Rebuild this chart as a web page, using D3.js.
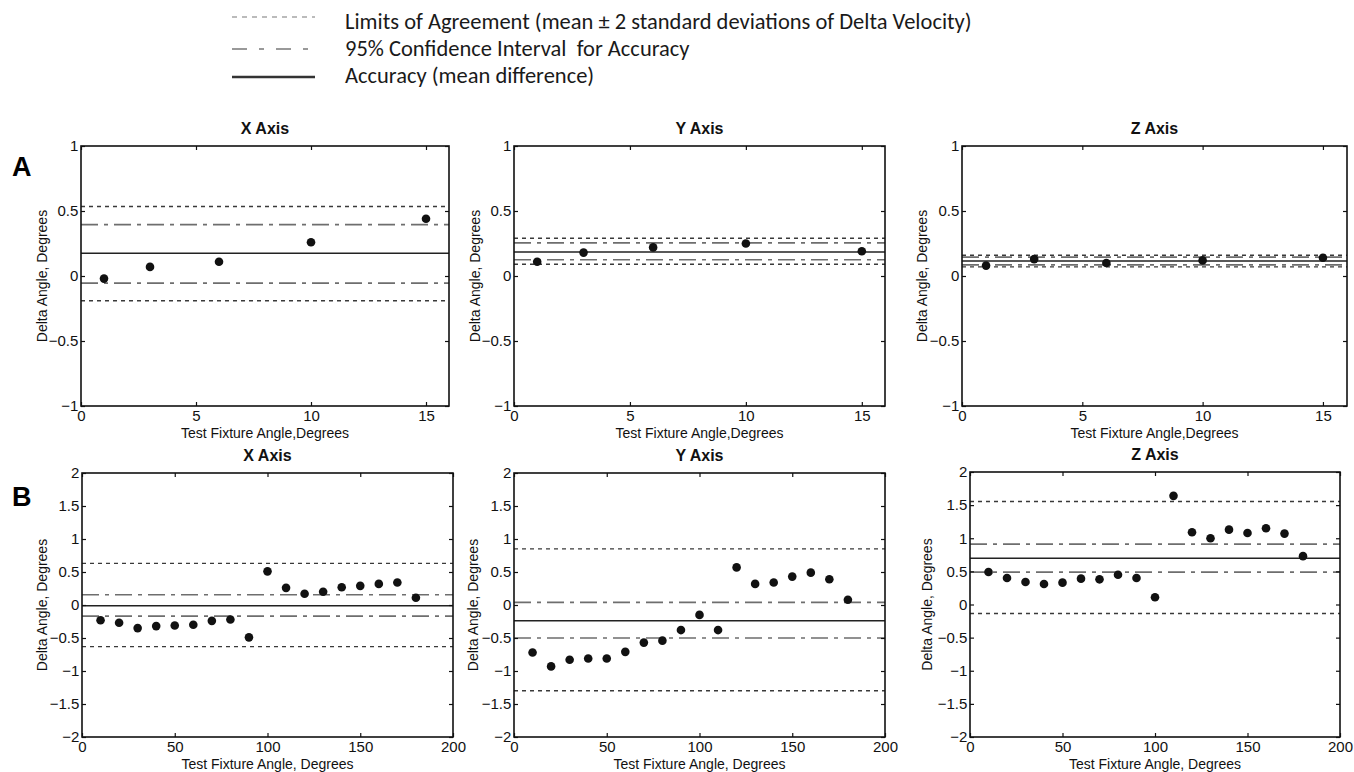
<!DOCTYPE html>
<html><head><meta charset="utf-8">
<script src="https://cdn.jsdelivr.net/npm/d3@7"></script>
<style>
html,body{margin:0;padding:0;background:#fff;}
svg{display:block;}
.leg{white-space:pre;}
</style></head>
<body>
<svg id="chart" width="1354" height="772"></svg>
<script>
// ---------- DATA ----------
const rowLabels = ["A", "B"];
const panelTitles = ["X Axis", "Y Axis", "Z Axis"];
const legendLabels = [
  "Limits of Agreement (mean \u00b1 2 standard deviations of Delta Velocity)",
  "95% Confidence Interval  for Accuracy",
  "Accuracy (mean difference)"
];
const yLabel = "Delta Angle, Degrees";
const xLabelA = "Test Fixture Angle,Degrees";
const xLabelB = "Test Fixture Angle, Degrees";

const xTicksA = [0, 5, 10, 15];
const yTicksA = [-1, -0.5, 0, 0.5, 1];
const xTicksB = [0, 50, 100, 150, 200];
const yTicksB = [-2, -1.5, -1, -0.5, 0, 0.5, 1, 1.5, 2];

const anglesA = [1, 3, 6, 10, 15];
const deltaAX = [-0.02, 0.07, 0.11, 0.26, 0.44];
const deltaAY = [0.11, 0.18, 0.22, 0.25, 0.19];
const deltaAZ = [0.08, 0.13, 0.10, 0.12, 0.14];

const anglesB = [10, 20, 30, 40, 50, 60, 70, 80, 90, 100, 110, 120, 130, 140, 150, 160, 170, 180];
const deltaBX = [-0.23, -0.27, -0.35, -0.32, -0.31, -0.30, -0.24, -0.22, -0.49, 0.51, 0.26, 0.17, 0.20, 0.27, 0.29, 0.32, 0.34, 0.11];
const deltaBY = [-0.72, -0.93, -0.83, -0.81, -0.81, -0.71, -0.57, -0.54, -0.38, -0.15, -0.38, 0.57, 0.32, 0.34, 0.43, 0.49, 0.39, 0.08];
const deltaBZ = [0.49, 0.40, 0.34, 0.31, 0.33, 0.39, 0.38, 0.45, 0.40, 0.11, 1.64, 1.09, 1.00, 1.13, 1.08, 1.15, 1.07, 0.73];

// [LoA lower, CI lower, mean, CI upper, LoA upper]
const statsAX = [-0.19, -0.055, 0.175, 0.395, 0.535];
const statsAY = [0.09, 0.125, 0.185, 0.255, 0.29];
const statsAZ = [0.07, 0.085, 0.115, 0.145, 0.16];
const statsBX = [-0.63, -0.17, -0.01, 0.155, 0.63];
const statsBY = [-1.30, -0.50, -0.24, 0.04, 0.85];
const statsBZ = [-0.135, 0.49, 0.70, 0.91, 1.555];

// ---------- LAYOUT ----------
const boxes = [
  {l: 81,  r: 449,  t: 146, b: 406},
  {l: 514, r: 885,  t: 146, b: 406},
  {l: 962, r: 1347, t: 146, b: 406},
  {l: 82,  r: 453,  t: 473, b: 737},
  {l: 514, r: 885,  t: 473, b: 737},
  {l: 970, r: 1340, t: 472, b: 737}
];
const ylabX = [42, 475, 922, 42, 473, 927];

const panels = [
  {x: anglesA, y: deltaAX, s: statsAX, xd: [0, 16], yd: [-1, 1], xt: xTicksA, yt: yTicksA, title: panelTitles[0], xl: xLabelA},
  {x: anglesA, y: deltaAY, s: statsAY, xd: [0, 16], yd: [-1, 1], xt: xTicksA, yt: yTicksA, title: panelTitles[1], xl: xLabelA},
  {x: anglesA, y: deltaAZ, s: statsAZ, xd: [0, 16], yd: [-1, 1], xt: xTicksA, yt: yTicksA, title: panelTitles[2], xl: xLabelA},
  {x: anglesB, y: deltaBX, s: statsBX, xd: [0, 200], yd: [-2, 2], xt: xTicksB, yt: yTicksB, title: panelTitles[0], xl: xLabelB},
  {x: anglesB, y: deltaBY, s: statsBY, xd: [0, 200], yd: [-2, 2], xt: xTicksB, yt: yTicksB, title: panelTitles[1], xl: xLabelB},
  {x: anglesB, y: deltaBZ, s: statsBZ, xd: [0, 200], yd: [-2, 2], xt: xTicksB, yt: yTicksB, title: panelTitles[2], xl: xLabelB}
];

const svg = d3.select("#chart");
const axisFont = "'Liberation Sans', Arial, sans-serif";
const styles = {
  loa: {stroke: "#3a3a3a", width: 1.4, dash: "4,4"},
  ci:  {stroke: "#6e6e6e", width: 1.7, dash: "17,6,4,6"},
  mean:{stroke: "#222", width: 1.5, dash: null}
};
const lineKinds = ["loa", "ci", "mean", "ci", "loa"];

// ---------- LEGEND ----------
const legendKinds = ["loa", "ci", "mean"];
const legY = [17, 49, 77];
const lg = svg.append("g");
legendKinds.forEach((k, i) => {
  lg.append("line").attr("x1", 232).attr("x2", 315).attr("y1", legY[i]).attr("y2", legY[i])
    .attr("stroke", k === "loa" ? "#bbb" : (k === "ci" ? "#999" : "#333"))
    .attr("stroke-width", k === "mean" ? 2.5 : 2)
    .attr("stroke-dasharray", k === "loa" ? "5,5" : (k === "ci" ? "15,12,5,12" : null));
  lg.append("text").attr("class", "leg").attr("x", 345).attr("y", legY[i] + 6 + (i === 0 ? 6 : (i === 1 ? 1 : 0)))
    .attr("font-family", "Carlito, Lato, 'Open Sans', sans-serif")
    .attr("font-size", 20).attr("fill", "#1a1a1a")
    .text(legendLabels[i]);
});
{
  const t = lg.selectAll("text").nodes()[0];
  const w = t.getComputedTextLength();
  const fs = 20 * 627 / w;
  lg.selectAll("text").attr("font-size", fs);
}

// ---------- ROW LABELS ----------
svg.append("text").attr("x", 12).attr("y", 176).attr("font-family", axisFont)
  .attr("font-weight", "bold").attr("font-size", 27).text(rowLabels[0]);
svg.append("text").attr("x", 12).attr("y", 506).attr("font-family", axisFont)
  .attr("font-weight", "bold").attr("font-size", 27).text(rowLabels[1]);

// ---------- PANELS ----------
panels.forEach((p, i) => {
  const bx = boxes[i];
  const x = d3.scaleLinear().domain(p.xd).range([bx.l, bx.r]);
  const y = d3.scaleLinear().domain(p.yd).range([bx.b, bx.t]);
  const g = svg.append("g");

  p.s.forEach((v, j) => {
    const st = styles[lineKinds[j]];
    g.append("line").attr("x1", bx.l).attr("x2", bx.r).attr("y1", y(v)).attr("y2", y(v))
      .attr("stroke", st.stroke).attr("stroke-width", st.width)
      .attr("stroke-dasharray", st.dash);
  });

  g.selectAll("circle.pt").data(p.x.map((xv, k) => [xv, p.y[k]])).enter()
    .append("circle").attr("class", "pt")
    .attr("cx", d => x(d[0])).attr("cy", d => y(d[1])).attr("r", 4.3)
    .attr("fill", "#111");

  const tl = 4;
  const axB = d3.axisBottom(x).tickValues(p.xt).tickSize(-tl).tickPadding(6).tickFormat(d3.format("d"));
  const axT = d3.axisTop(x).tickValues(p.xt).tickSize(-tl).tickFormat("");
  const axL = d3.axisLeft(y).tickValues(p.yt).tickSize(-tl).tickPadding(5).tickFormat(d => d3.format("")(d));
  const axR = d3.axisRight(y).tickValues(p.yt).tickSize(-tl).tickFormat("");
  const gb = g.append("g").attr("transform", `translate(0,${bx.b})`).call(axB);
  const gt = g.append("g").attr("transform", `translate(0,${bx.t})`).call(axT);
  const gl = g.append("g").attr("transform", `translate(${bx.l},0)`).call(axL);
  const gr = g.append("g").attr("transform", `translate(${bx.r},0)`).call(axR);
  [gb, gt, gl, gr].forEach(a => {
    a.select(".domain").remove();
    a.selectAll(".tick line").attr("stroke", "#111").attr("stroke-width", 1.2);
    a.selectAll("text").attr("font-family", axisFont).attr("font-size", 15).attr("fill", "#111");
  });
  gl.selectAll("text").attr("dx", "0.15em");
  gb.selectAll("text").attr("dy", "0.6em");

  g.append("rect").attr("x", bx.l).attr("y", bx.t).attr("width", bx.r - bx.l).attr("height", bx.b - bx.t)
    .attr("fill", "none").attr("stroke", "#111").attr("stroke-width", 1.6);

  g.append("text").attr("x", (bx.l + bx.r) / 2).attr("y", bx.t - 12)
    .attr("text-anchor", "middle").attr("font-family", axisFont).attr("font-weight", "bold")
    .attr("font-size", 16).attr("fill", "#111").text(p.title);

  g.append("text").attr("x", (bx.l + bx.r) / 2).attr("y", bx.b + 32)
    .attr("text-anchor", "middle").attr("font-family", axisFont)
    .attr("font-size", 14).attr("fill", "#111").text(p.xl);

  const cy = (bx.t + bx.b) / 2;
  g.append("text").attr("transform", `translate(${ylabX[i] + 5},${cy}) rotate(-90)`)
    .attr("text-anchor", "middle").attr("font-family", axisFont)
    .attr("font-size", 14).attr("fill", "#111").text(yLabel);
});
</script>
</body></html>
